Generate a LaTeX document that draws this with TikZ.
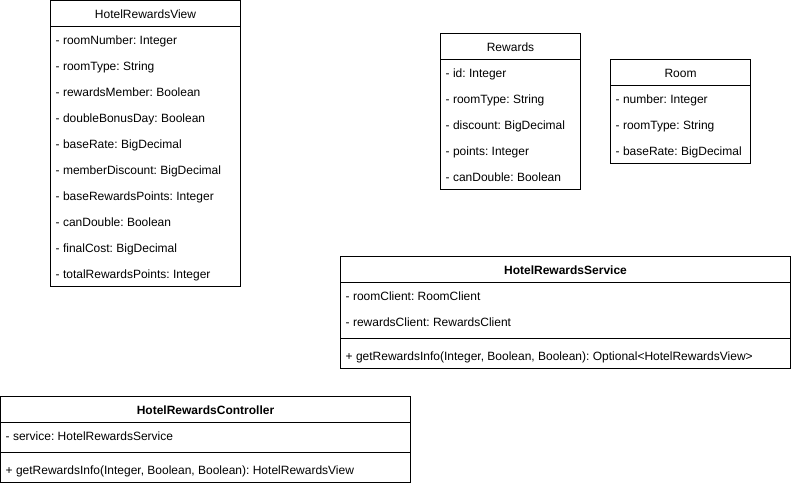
\documentclass[tikz,border=0pt]{standalone}
\usepackage{fontspec}
\setmainfont{Liberation Sans}
\frenchspacing
\begin{document}
\begin{tikzpicture}[x=1pt,y=-1pt,
  classframe/.style={draw=black, line width=1pt, fill=white, anchor=north west,
    inner sep=0pt, outer sep=0pt},
  divider/.style={draw=black, line width=1pt},
  ctitle/.style={font=\fontsize{12}{14}\selectfont, inner sep=0pt, anchor=base},
  btitle/.style={font=\fontsize{12}{14}\selectfont\bfseries, inner sep=0pt, anchor=base},
  member/.style={font=\fontsize{12}{14}\selectfont, inner sep=0pt, anchor=base west},
]
\useasboundingbox[fill=white] (0,0) rectangle (791,486);

% ---------- HotelRewardsView ----------
\node[classframe, minimum width=190pt, minimum height=286pt] (view) at (50.5,0.5) {};
\draw[divider] ([yshift=-26pt]view.north west) -- ([yshift=-26pt]view.north east);
\node[ctitle] (view-title) at ([yshift=-18.3pt]view.north) {HotelRewardsView};
\foreach \txt [count=\i] in {
  - roomNumber: Integer,
  - roomType: String,
  - rewardsMember: Boolean,
  - doubleBonusDay: Boolean,
  - baseRate: BigDecimal,
  - memberDiscount: BigDecimal,
  - baseRewardsPoints: Integer,
  - canDouble: Boolean,
  - finalCost: BigDecimal,
  - totalRewardsPoints: Integer}
  \node[member] (view-m\i) at ([xshift=5pt, yshift={-(26*\i+18.3)*1pt}]view.north west) {\txt};

% ---------- Rewards ----------
\node[classframe, minimum width=140pt, minimum height=156pt] (rewards) at (440.5,33.5) {};
\draw[divider] ([yshift=-26pt]rewards.north west) -- ([yshift=-26pt]rewards.north east);
\node[ctitle] (rewards-title) at ([yshift=-18.3pt]rewards.north) {Rewards};
\foreach \txt [count=\i] in {
  - id: Integer,
  - roomType: String,
  - discount: BigDecimal,
  - points: Integer,
  - canDouble: Boolean}
  \node[member] (rewards-m\i) at ([xshift=5pt, yshift={-(26*\i+18.3)*1pt}]rewards.north west) {\txt};

% ---------- Room ----------
\node[classframe, minimum width=140pt, minimum height=104pt] (room) at (610.5,59.5) {};
\draw[divider] ([yshift=-26pt]room.north west) -- ([yshift=-26pt]room.north east);
\node[ctitle] (room-title) at ([yshift=-18.3pt]room.north) {Room};
\foreach \txt [count=\i] in {
  - number: Integer,
  - roomType: String,
  - baseRate: BigDecimal}
  \node[member] (room-m\i) at ([xshift=5pt, yshift={-(26*\i+18.3)*1pt}]room.north west) {\txt};

% ---------- HotelRewardsService ----------
\node[classframe, minimum width=450pt, minimum height=112pt] (service) at (340.5,256.5) {};
\draw[divider] ([yshift=-26pt]service.north west) -- ([yshift=-26pt]service.north east);
\draw[divider] ([yshift=-82pt]service.north west) -- ([yshift=-82pt]service.north east);
\node[btitle] (service-title) at ([yshift=-18.3pt]service.north) {HotelRewardsService};
\foreach \txt [count=\i] in {
  - roomClient: RoomClient,
  - rewardsClient: RewardsClient}
  \node[member] (service-m\i) at ([xshift=5pt, yshift={-(26*\i+18.3)*1pt}]service.north west) {\txt};
\node[member] (service-op) at ([xshift=5pt, yshift=-103.8pt]service.north west)
  {+ getRewardsInfo(Integer, Boolean, Boolean): Optional\textless HotelRewardsView\textgreater};

% ---------- HotelRewardsController ----------
\node[classframe, minimum width=410pt, minimum height=86pt] (controller) at (0.5,396.5) {};
\draw[divider] ([yshift=-26pt]controller.north west) -- ([yshift=-26pt]controller.north east);
\draw[divider] ([yshift=-56pt]controller.north west) -- ([yshift=-56pt]controller.north east);
\node[btitle] (controller-title) at ([yshift=-18.3pt]controller.north) {HotelRewardsController};
\node[member] (controller-m1) at ([xshift=5pt, yshift=-44.3pt]controller.north west)
  {- service: HotelRewardsService};
\node[member] (controller-op) at ([xshift=5pt, yshift=-77.8pt]controller.north west)
  {+ getRewardsInfo(Integer, Boolean, Boolean): HotelRewardsView};
\end{tikzpicture}
\end{document}
